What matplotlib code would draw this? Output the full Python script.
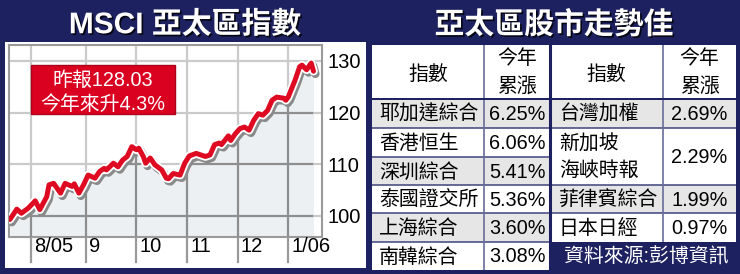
import matplotlib
matplotlib.use("Agg")
import matplotlib.pyplot as plt
import matplotlib.patheffects as pe
from matplotlib.patches import Rectangle

plt.rcParams['font.family'] = ['Liberation Sans', 'Noto Sans CJK TC', 'DejaVu Sans']

W, H = 740, 274
NAVY = "#1d2160"
RED = "#de0a22"
FILL = "#edf0f3"
LIGHT_GRID = "#cacaca"
DARK_GRID = "#8e8e8e"

# MSCI Asia Pacific index, by trading day (day 0 = mid July 2005)
days = [0, 3, 5, 8, 11, 13, 16, 17, 19, 22,
        24, 27, 28, 30, 32, 34, 37, 39, 41, 42,
        45, 47, 49, 51, 53, 55, 56, 58, 59, 61,
        63, 66, 68, 69, 71, 74, 76, 78, 81, 83,
        85, 87, 89, 91, 92, 95, 96, 98, 100, 102,
        104, 106, 108, 110, 112, 114, 116, 119, 120, 121,
        124, 126, 127, 129, 131, 132]
index = [99.3, 101.3, 100.5, 101.5, 102.9, 101.2, 103.7, 106.0, 106.3, 104.4,
         106.3, 105.7, 106.2, 104.4, 106.0, 107.9, 107.3, 108.6, 109.2, 108.9,
         110.2, 109.5, 110.8, 111.5, 113.4, 112.8, 113.1, 111.5, 110.2, 111.2,
         109.9, 108.9, 107.3, 107.2, 108.2, 107.9, 110.2, 111.6, 112.1, 111.8,
         111.5, 111.8, 113.8, 114.1, 113.8, 115.5, 114.6, 115.9, 116.9, 117.2,
         116.6, 118.5, 119.8, 119.5, 120.4, 122.4, 123.0, 122.8, 122.4, 123.0,
         126.3, 128.9, 129.2, 128.3, 129.6, 128.03]
last_close = 128.03
ytd_change = 4.3

# first trading day of each month
month_starts = [9, 33, 55, 77, 99, 121]
month_labels = ["8/05", "9", "10", "11", "12", "1/06"]
yticks = [100, 110, 120, 130]

# year-to-date gains of Asian markets
left_names = ["耶加達綜合", "香港恒生", "深圳綜合", "泰國證交所", "上海綜合", "南韓綜合"]
left_values = [6.25, 6.06, 5.41, 5.36, 3.60, 3.08]
right_names = ["台灣加權", "新加坡\n海峽時報", "菲律賓綜合", "日本日經"]
right_values = [2.69, 2.29, 1.99, 0.97]
right_spans = [1, 2, 1, 1]
source = "資料來源:彭博資訊"


def fx(px):
    return px / W


def fy(py):
    return 1 - py / H


fig = plt.figure(figsize=(W / 100, H / 100), dpi=100, facecolor=NAVY)

# white panel behind the chart
fig.add_artist(Rectangle((fx(5), fy(268)), fx(366 - 5), (268 - 42) / H,
                         transform=fig.transFigure, facecolor="white",
                         edgecolor="none", zorder=0))

title_fx = [pe.withSimplePatchShadow(offset=(1.2, -1.2), shadow_rgbFace="black", alpha=0.8)]
fig.text(fx(185), fy(25), "MSCI 亞太區指數", color="white", fontsize=21.5,
         fontweight="bold", ha="center", va="center", path_effects=title_fx)
fig.text(fx(554), fy(25), "亞太區股市走勢佳", color="white", fontsize=21.5,
         fontweight="bold", ha="center", va="center", path_effects=title_fx)

# ---------------- line chart ----------------
ax = fig.add_axes([fx(9), fy(237), 313 / W, 192 / H])
ax.set_xlim(-0.4, 135.7)
ax.set_ylim(95.9, 133.1)
ax.set_facecolor("white")

for v in yticks:
    ax.axhline(v, color=LIGHT_GRID, lw=1.6, zorder=1)
for m in month_starts:
    ax.axvline(m, color=LIGHT_GRID, lw=1.6, zorder=1)

area = ax.fill_between(days, index, 90, color=FILL, lw=0, zorder=2)
clip = area.get_paths()[0]
for v in yticks:
    ln = ax.axhline(v, color=DARK_GRID, lw=1.6, zorder=3)
    ln.set_clip_path(clip, ax.transData)
for m in month_starts:
    ln = ax.axvline(m, color=DARK_GRID, lw=1.6, zorder=3)
    ln.set_clip_path(clip, ax.transData)

ax.plot(days, index, color=RED, lw=3.6, zorder=5, solid_joinstyle="round",
        solid_capstyle="round",
        path_effects=[pe.SimpleLineShadow(offset=(1.4, -2.0), shadow_color="#8a8a8a",
                                          alpha=1.0, linewidth=6),
                      pe.Stroke(linewidth=6.2, foreground="white"),
                      pe.Normal()])

for s in ax.spines.values():
    s.set_color("#9a9a9a")
    s.set_linewidth(1.5)

ax.set_xticks([])
ax.yaxis.tick_right()
ax.set_yticks(yticks)
ax.tick_params(axis="y", length=0, pad=4, labelsize=14.5, labelcolor="black")

# month separators and labels under the plot
xt = ax.get_xaxis_transform()
for m, lab in zip(month_starts, month_labels):
    ax.plot([m, m], [0, -25 / 192], transform=xt, color="#9a9a9a", lw=1.6, clip_on=False)
    ax.text(m + 1.4, -9 / 192, lab, transform=xt, ha="left", va="center",
            fontsize=14.5, color="black")

# red annotation box
ax.add_patch(Rectangle((22 / 313, 123 / 192), 144 / 313, 49 / 192, transform=ax.transAxes,
                       facecolor="#da0020", edgecolor="#a80018", lw=1, zorder=6))
ax.text(94 / 313, 157 / 192, f"昨報{last_close:.2f}", transform=ax.transAxes,
        ha="center", va="center", color="white", fontsize=14.3, zorder=7)
ax.text(94 / 313, 133 / 192, f"今年來升{ytd_change}%", transform=ax.transAxes,
        ha="center", va="center", color="white", fontsize=14.3, zorder=7)

# ---------------- table ----------------
tx = fig.add_axes([fx(372), fy(270), 364 / W, 225 / H])
tx.set_xlim(372, 736)
tx.set_ylim(270, 45)
tx.axis("off")

row_edges = [45, 99, 128, 157, 185, 213, 242, 270]
lcols = [372, 484, 550]
rcols = [550, 663, 736]
SHADE = "#e6e6e6"
LINE = "#4d5186"
TXT = dict(fontsize=14.3, color="black")

tx.add_patch(Rectangle((372, 45), 364, 225, facecolor="white", edgecolor="none"))

# header row
for c0, c1 in (lcols[:2], rcols[:2]):
    tx.text((c0 + c1) / 2, 74, "指數", ha="center", va="center", **TXT)
for c0, c1 in (lcols[1:], rcols[1:]):
    tx.text((c0 + c1) / 2, 58, "今年", ha="center", va="center", **TXT)
    tx.text((c0 + c1) / 2, 86, "累漲", ha="center", va="center", **TXT)

# left half
for i, (name, val) in enumerate(zip(left_names, left_values)):
    y0, y1 = row_edges[i + 1], row_edges[i + 2]
    if i % 2 == 0:
        tx.add_patch(Rectangle((lcols[0], y0), lcols[2] - lcols[0], y1 - y0,
                               facecolor=SHADE, edgecolor="none"))
    tx.text(lcols[0] + 7, (y0 + y1) / 2 + 1, name, ha="left", va="center", **TXT)
    tx.text((lcols[1] + lcols[2]) / 2, (y0 + y1) / 2 + 1, f"{val:.2f}%",
            ha="center", va="center", **TXT)
    tx.plot([lcols[0], lcols[2]], [y0, y0], color=LINE, lw=1.2)

# right half
r = 1
for i, (name, val, span) in enumerate(zip(right_names, right_values, right_spans)):
    y0, y1 = row_edges[r], row_edges[r + span]
    r += span
    if i % 2 == 0:
        tx.add_patch(Rectangle((rcols[0], y0), rcols[2] - rcols[0], y1 - y0,
                               facecolor=SHADE, edgecolor="none"))
    tx.text(rcols[0] + 9, (y0 + y1) / 2 + 1, name, ha="left", va="center",
            linespacing=1.45, **TXT)
    tx.text((rcols[1] + rcols[2]) / 2, (y0 + y1) / 2 + 1, f"{val:.2f}%",
            ha="center", va="center", **TXT)
    tx.plot([rcols[0], rcols[2]], [y0, y0], color=LINE, lw=1.2)

y0 = row_edges[r]
tx.add_patch(Rectangle((rcols[0], y0), rcols[2] - rcols[0], 270 - y0,
                       facecolor=NAVY, edgecolor="none", zorder=3))
tx.text((rcols[0] + rcols[2]) / 2 + 3, (y0 + 270) / 2 + 1, source, ha="center",
        va="center", fontsize=14.3, color="white", zorder=4)

# column dividers
for c in (lcols[1], rcols[1]):
    tx.plot([c, c], [45, 270], color="#6a6d9a", lw=1.2)
tx.plot([550, 550], [45, 270], color=NAVY, lw=2.2, zorder=5)
tx.plot([372, 736], [99, 99], color=NAVY, lw=1.4)

fig.savefig("out.png", dpi=100, facecolor=NAVY)
